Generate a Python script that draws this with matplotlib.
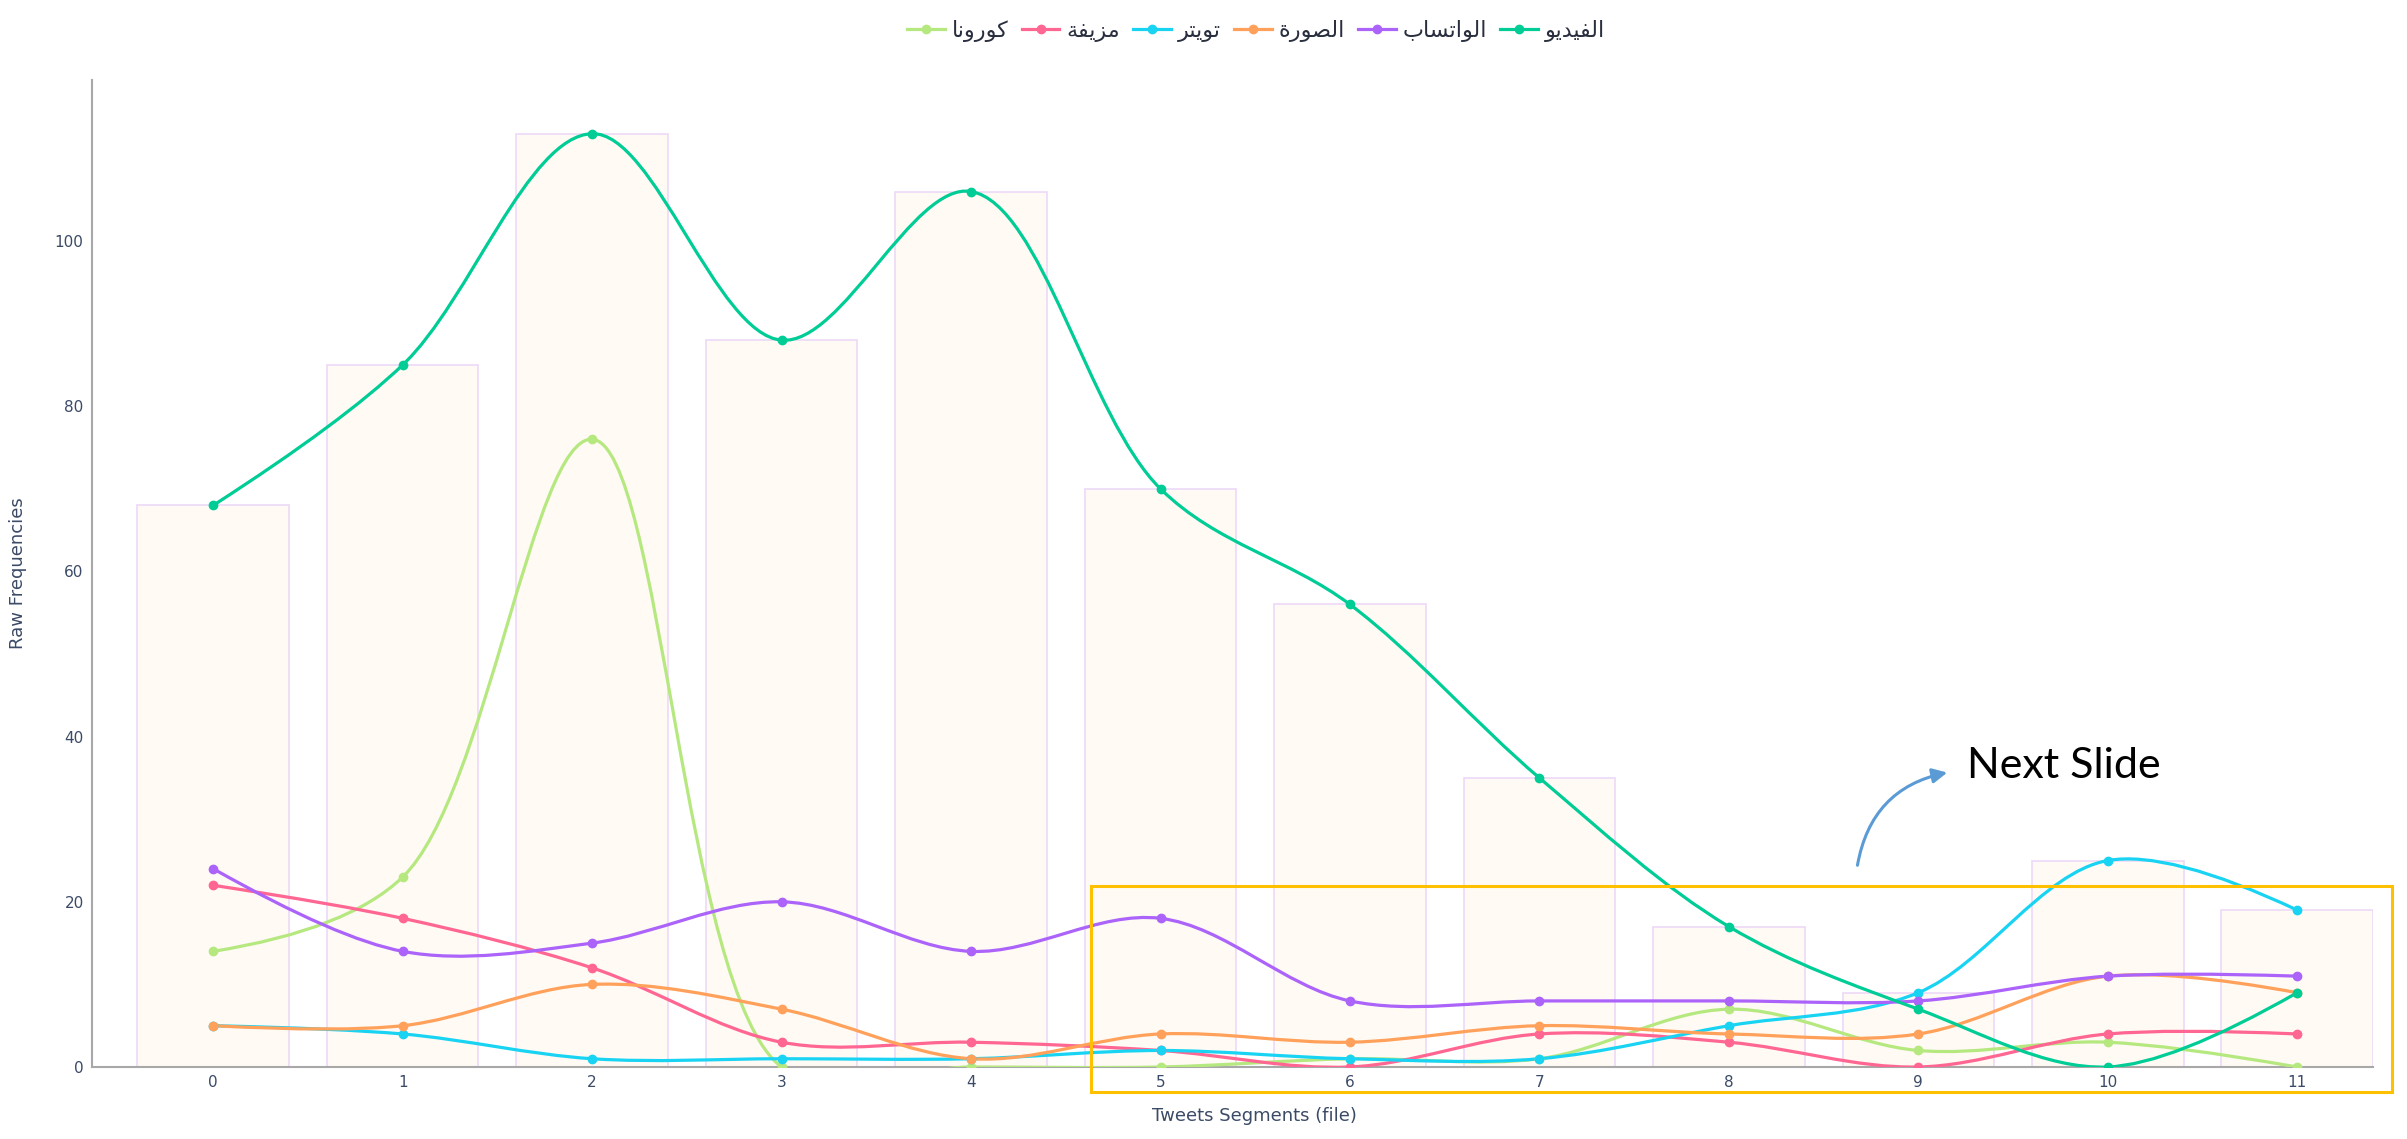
#!/usr/bin/env python3
"""Raw word frequencies per tweet segment, smoothed lines over bar totals."""

import matplotlib
matplotlib.use("Agg")
import matplotlib.pyplot as plt
from matplotlib.lines import Line2D
from matplotlib.patches import FancyArrowPatch, PathPatch, Rectangle
from matplotlib.path import Path
import numpy as np

segments = list(range(12))
bar_totals = [68, 85, 113, 88, 106, 70, 56, 35, 17, 9, 25, 19]

# traces in legend order (left to right)
names = ["كورونا", "مزيفة", "تويتر", "الصورة", "الواتساب", "الفيديو"]
colors = ["#B6E880", "#FF6692", "#19D3F3", "#FFA15A", "#AB63FA", "#00CC96"]
corona   = [14, 23, 76, 0, 0, 0, 1, 1, 7, 2, 3, 0]
fake     = [22, 18, 12, 3, 3, 2, 0, 4, 3, 0, 4, 4]
twitter  = [5, 4, 1, 1, 1, 2, 1, 1, 5, 9, 25, 19]
image    = [5, 5, 10, 7, 1, 4, 3, 5, 4, 4, 11, 9]
whatsapp = [24, 14, 15, 20, 14, 18, 8, 8, 8, 8, 11, 11]
video    = [68, 85, 113, 88, 106, 70, 56, 35, 17, 7, 0, 9]
series = [corona, fake, twitter, image, whatsapp, video]

# minimal Arabic shaping (isolated, final, initial, medial)
FORMS = {
    "ا": ("\uFE8D", "\uFE8E", None, None),
    "ب": ("\uFE8F", "\uFE90", "\uFE91", "\uFE92"),
    "ة": ("\uFE93", "\uFE94", None, None),
    "ت": ("\uFE95", "\uFE96", "\uFE97", "\uFE98"),
    "د": ("\uFEA9", "\uFEAA", None, None),
    "ر": ("\uFEAD", "\uFEAE", None, None),
    "ز": ("\uFEAF", "\uFEB0", None, None),
    "س": ("\uFEB1", "\uFEB2", "\uFEB3", "\uFEB4"),
    "ص": ("\uFEB9", "\uFEBA", "\uFEBB", "\uFEBC"),
    "ف": ("\uFED1", "\uFED2", "\uFED3", "\uFED4"),
    "ك": ("\uFED9", "\uFEDA", "\uFEDB", "\uFEDC"),
    "ل": ("\uFEDD", "\uFEDE", "\uFEDF", "\uFEE0"),
    "م": ("\uFEE1", "\uFEE2", "\uFEE3", "\uFEE4"),
    "ن": ("\uFEE5", "\uFEE6", "\uFEE7", "\uFEE8"),
    "و": ("\uFEED", "\uFEEE", None, None),
    "ي": ("\uFEF1", "\uFEF2", "\uFEF3", "\uFEF4"),
}


def shape(word):
    out = []
    n = len(word)
    for i, ch in enumerate(word):
        f = FORMS.get(ch)
        if f is None:
            out.append(ch)
            continue
        prev_j = i > 0 and word[i - 1] in FORMS and FORMS[word[i - 1]][2] is not None
        next_j = i < n - 1 and word[i + 1] in FORMS and f[2] is not None
        if prev_j and next_j:
            out.append(f[3])
        elif prev_j:
            out.append(f[1])
        elif next_j:
            out.append(f[2])
        else:
            out.append(f[0])
    return "".join(reversed(out))


def tangent(p0, p1, p2, s=1.0):
    # plotly-style Catmull-Rom control points around p1
    d1 = p0 - p1
    d2 = p2 - p1
    a1 = np.hypot(*d1) ** 0.5
    a2 = np.hypot(*d2) ** 0.5
    num = (a2 * a2 * d1 - a1 * a1 * d2) * s
    den1 = 3 * a2 * (a1 + a2)
    den2 = 3 * a1 * (a1 + a2)
    c0 = p1 + (num / den1 if den1 else 0)
    c1 = p1 - (num / den2 if den2 else 0)
    return c0, c1


def spline_path(ax, xs, ys):
    pts = ax.transData.transform(np.column_stack([xs, ys]))
    tg = [tangent(pts[i - 1], pts[i], pts[i + 1]) for i in range(1, len(pts) - 1)]
    verts = [pts[0], tg[0][0], pts[1]]
    codes = [Path.MOVETO, Path.CURVE3, Path.CURVE3]
    for i in range(2, len(pts) - 1):
        verts += [tg[i - 2][1], tg[i - 1][0], pts[i]]
        codes += [Path.CURVE4] * 3
    verts += [tg[-1][1], pts[-1]]
    codes += [Path.CURVE3] * 2
    inv = ax.transData.inverted()
    return Path(inv.transform(np.array(verts)), codes)


fig = plt.figure(figsize=(24.07, 11.39), dpi=100)
ax = fig.add_axes([92 / 2407, 72 / 1139, (2373 - 92) / 2407, (1067 - 80) / 1139])
ax.set_xlim(-0.64, 11.4)
ax.set_ylim(0, 119.5)

ax.bar(segments, bar_totals, width=0.8, color="#FFFAF4", edgecolor="#EDD9F8",
       linewidth=1.2, zorder=1)

for name, vals, c in zip(names, series, colors):
    ax.add_patch(PathPatch(spline_path(ax, segments, vals), facecolor="none",
                           edgecolor=c, lw=2.3, zorder=3))
    ax.plot(segments, vals, "o", color=c, ms=6, zorder=4)

for side in ["top", "right"]:
    ax.spines[side].set_visible(False)
for side in ["left", "bottom"]:
    ax.spines[side].set_color("#A8A8A8")
    ax.spines[side].set_linewidth(1.5)

ax.set_xticks(segments)
ax.set_yticks([0, 20, 40, 60, 80, 100])
ax.tick_params(length=0, labelsize=11, colors="#3B4A66", pad=6)
ax.set_xlabel("Tweets Segments (file)", fontsize=13, color="#3B4A66")
ax.set_ylabel("Raw Frequencies", fontsize=13, color="#3B4A66")
ax.xaxis.set_label_coords(0.5096, -0.05)
ax.xaxis.label.set_va("center")
ax.yaxis.set_label_coords(-0.0324, 0.5)
ax.yaxis.label.set_va("center")

handles = [Line2D([], [], color=c, lw=2.3, marker="o", ms=6) for c in colors]
fig.legend(handles, [shape(n) for n in names], loc="center",
           bbox_to_anchor=(1256 / 2407, 1 - 31 / 1139), ncol=6, frameon=False,
           handlelength=1.7, handletextpad=0.3, columnspacing=0.6,
           labelcolor="#2A2F3F", prop={"family": "DejaVu Sans", "size": 16})

# slide annotations
fig.add_artist(Rectangle((1091 / 2407, 1 - 1092 / 1139), 1301 / 2407, 206 / 1139,
                         transform=fig.transFigure, fill=False,
                         edgecolor="#FFC000", lw=2.2, zorder=10))
fig.add_artist(FancyArrowPatch((1857 / 2407, 1 - 868 / 1139), (1950 / 2407, 1 - 772 / 1139),
                               transform=fig.transFigure, connectionstyle="arc3,rad=-0.35",
                               arrowstyle="-|>", mutation_scale=22, color="#5B9BD5",
                               lw=2.2, zorder=10))
fig.text(1967 / 2407, 1 - 778 / 1139, "Next Slide", fontsize=31, family="Lato",
         ha="left", va="baseline", color="black")

fig.savefig("out.png", dpi=100)
